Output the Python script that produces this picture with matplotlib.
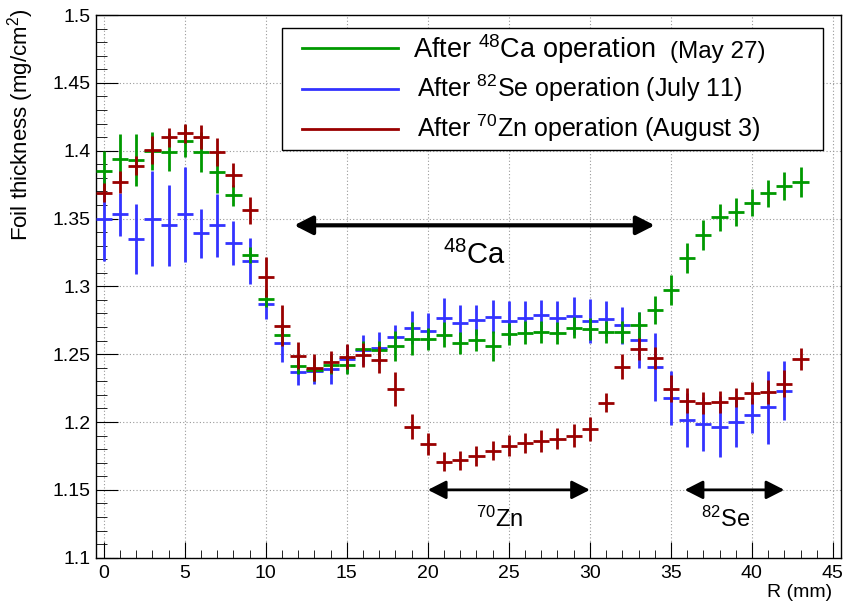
import matplotlib
matplotlib.use("Agg")
import matplotlib.pyplot as plt
from matplotlib.lines import Line2D
from matplotlib.patches import Rectangle
from matplotlib.ticker import MultipleLocator, FuncFormatter

plt.rcParams['font.family'] = ['Liberation Sans', 'DejaVu Sans']
plt.rcParams['mathtext.fontset'] = 'custom'
plt.rcParams['mathtext.rm'] = 'Liberation Sans'
plt.rcParams['mathtext.it'] = 'Liberation Sans:italic'
plt.rcParams['mathtext.bf'] = 'Liberation Sans:bold'

# ---------------- data ----------------
r_ca = list(range(0, 44))
ca_val = [1.385, 1.394, 1.393, 1.400, 1.399, 1.407, 1.399, 1.384, 1.367, 1.323,
          1.291, 1.264, 1.2416, 1.2384, 1.2423, 1.2423, 1.2539, 1.2534, 1.2563, 1.2615,
          1.2612, 1.2644, 1.2580, 1.2603, 1.2563, 1.2649, 1.2657, 1.2666, 1.2654, 1.2696,
          1.2684, 1.2662, 1.2662, 1.2713, 1.2826, 1.2973, 1.3209, 1.3379, 1.3509, 1.3548,
          1.3617, 1.3686, 1.3740, 1.3767]
ca_err = [0.015, 0.018, 0.019, 0.014, 0.014, 0.012, 0.015, 0.015, 0.008, 0.006,
          0.006, 0.006, 0.006, 0.008, 0.007, 0.007, 0.006, 0.006, 0.011, 0.012,
          0.008, 0.009, 0.008, 0.008, 0.011, 0.008, 0.0085, 0.008, 0.008, 0.008,
          0.008, 0.008, 0.008, 0.010, 0.010, 0.011, 0.011, 0.011, 0.010, 0.0105,
          0.010, 0.010, 0.010, 0.011]

r_se = list(range(0, 43))
se_val = [1.350, 1.353, 1.335, 1.350, 1.345, 1.353, 1.339, 1.345, 1.332, 1.319,
          1.287, 1.258, 1.237, 1.2377, 1.239, 1.2467, 1.253, 1.2546, 1.2627, 1.2696,
          1.2671, 1.2765, 1.2728, 1.2752, 1.2777, 1.2745, 1.2770, 1.2789, 1.2770, 1.2784,
          1.2745, 1.2762, 1.2713, 1.2603, 1.2406, 1.2178, 1.2016, 1.1988, 1.1966, 1.2003,
          1.2050, 1.2109, 1.2232]
se_err = [0.031, 0.016, 0.026, 0.035, 0.030, 0.035, 0.018, 0.023, 0.016, 0.017,
          0.011, 0.014, 0.010, 0.010, 0.011, 0.010, 0.011, 0.012, 0.009, 0.012,
          0.0135, 0.015, 0.0135, 0.011, 0.012, 0.015, 0.012, 0.011, 0.0125, 0.014,
          0.016, 0.013, 0.0135, 0.0206, 0.025, 0.020, 0.020, 0.020, 0.0226, 0.019,
          0.013, 0.027, 0.022]

r_zn = list(range(0, 44))
zn_val = [1.369, 1.377, 1.389, 1.4005, 1.410, 1.413, 1.410, 1.399, 1.382, 1.356,
          1.307, 1.271, 1.249, 1.240, 1.2445, 1.2482, 1.2492, 1.2458, 1.2246, 1.1966,
          1.1840, 1.1708, 1.1718, 1.1750, 1.1787, 1.1826, 1.1846, 1.1858, 1.1878, 1.1900,
          1.1949, 1.2141, 1.2408, 1.2536, 1.2470, 1.2246, 1.2158, 1.2138, 1.2150, 1.2180,
          1.2212, 1.2220, 1.2281, 1.2465]
zn_err = [0.007, 0.008, 0.007, 0.010, 0.007, 0.007, 0.009, 0.010, 0.009, 0.010,
          0.015, 0.015, 0.010, 0.010, 0.008, 0.009, 0.009, 0.010, 0.0125, 0.009,
          0.008, 0.007, 0.007, 0.0075, 0.007, 0.0075, 0.0075, 0.008, 0.008, 0.0085,
          0.009, 0.007, 0.009, 0.008, 0.008, 0.010, 0.009, 0.008, 0.008, 0.007,
          0.008, 0.009, 0.010, 0.008]

bin_half_width = 0.5

label_main = [r"After $^{48}$Ca operation",
              r"After $^{82}$Se operation (July 11)",
              r"After $^{70}$Zn operation (August 3)"]
label_date_ca = "(May 27)"

ca_range = (11.75, 34.0)
zn_range = (20.0, 30.0)
se_range = (35.85, 42.0)

c_ca = '#009900'
c_se = '#3333ff'
c_zn = '#990000'

# ---------------- figure ----------------
fig = plt.figure(figsize=(8.45, 6.06), dpi=100)
ax = fig.add_axes([0.1133, 0.0797, 0.882, 0.8955])

ax.errorbar(r_se, se_val, xerr=bin_half_width, yerr=se_err, fmt='none',
            ecolor=c_se, elinewidth=2, capsize=0, zorder=3)
ax.errorbar(r_ca, ca_val, xerr=bin_half_width, yerr=ca_err, fmt='none',
            ecolor=c_ca, elinewidth=2, capsize=0, zorder=4)
ax.errorbar(r_zn, zn_val, xerr=bin_half_width, yerr=zn_err, fmt='none',
            ecolor=c_zn, elinewidth=2, capsize=0, zorder=5)

ax.set_xlim(-0.5, 45.5)
ax.set_ylim(1.1, 1.5)

ax.xaxis.set_major_locator(MultipleLocator(5))
ax.xaxis.set_minor_locator(MultipleLocator(1))
ax.yaxis.set_major_locator(MultipleLocator(0.05))
ax.yaxis.set_minor_locator(MultipleLocator(0.01))
ax.yaxis.set_major_formatter(FuncFormatter(lambda v, p: ('%.2f' % v).rstrip('0').rstrip('.')))
ax.xaxis.set_major_formatter(FuncFormatter(lambda v, p: '%d' % round(v)))

ax.tick_params(which='both', direction='in', top=False, right=False, labelsize=14, color='black')
ax.tick_params(axis='x', which='major', length=11.7, pad=5.5)
ax.tick_params(axis='x', which='minor', length=5.9)
ax.tick_params(axis='y', which='major', length=15.8, pad=3.5)
ax.tick_params(axis='y', which='minor', length=7.9)

ax.grid(True, which='major', linestyle=(0, (1, 2)), color='#999999', linewidth=0.8, zorder=0)
for s in ax.spines.values():
    s.set_linewidth(1.0)

ax.set_xlabel('R (mm)', fontsize=14, ha='right', va='top')
ax.xaxis.set_label_coords(0.988, -0.0485)
ax.set_ylabel(r'Foil thickness (mg/cm$^2$)', fontsize=16, ha='right')
ax.yaxis.set_label_coords(-0.080, 1.0129)

# region arrows
def region_arrow(rng, y, lw, ms):
    ax.annotate('', xy=(rng[0], y), xytext=(rng[1], y),
                arrowprops=dict(arrowstyle='<|-|>,head_length=0.55,head_width=0.28',
                                color='black', lw=lw, shrinkA=0, shrinkB=0,
                                mutation_scale=ms), zorder=6)

region_arrow(ca_range, 1.345, 3, 20)
region_arrow(zn_range, 1.15, 2, 20)
region_arrow(se_range, 1.15, 2, 20)

ax.text(22.85, 1.323, r"$^{48}$Ca", ha='center', va='center', fontsize=21, zorder=7)
ax.text(24.4, 1.1286, r"$^{70}$Zn", ha='center', va='center', fontsize=17, zorder=7)
ax.text(38.4, 1.1286, r"$^{82}$Se", ha='center', va='center', fontsize=17, zorder=7)

# legend (drawn as a boxed key in axes coordinates)
T = ax.transAxes
ax.add_patch(Rectangle((0.25, 0.7512), 0.7258, 0.2249, transform=T,
                       facecolor='white', edgecolor='black', linewidth=1.0, zorder=10))
line_y = [0.9386, 0.8631, 0.7894]
base_y = [0.9202, 0.8495, 0.7758]
text_x = [0.4257, 0.4307, 0.4307]
sizes = [19.5, 18, 18]
for col, ly, by, tx, lab, fs in zip([c_ca, c_se, c_zn], line_y, base_y, text_x, label_main, sizes):
    ax.add_line(Line2D([0.2764, 0.4060], [ly, ly], transform=T, color=col, lw=2, zorder=11))
    ax.text(tx, by, lab, transform=T, fontsize=fs, ha='left', va='baseline', zorder=11)
ax.text(0.7706, base_y[0], label_date_ca, transform=T, fontsize=17.5, ha='left', va='baseline', zorder=11)

fig.savefig('out.png', dpi=100)
